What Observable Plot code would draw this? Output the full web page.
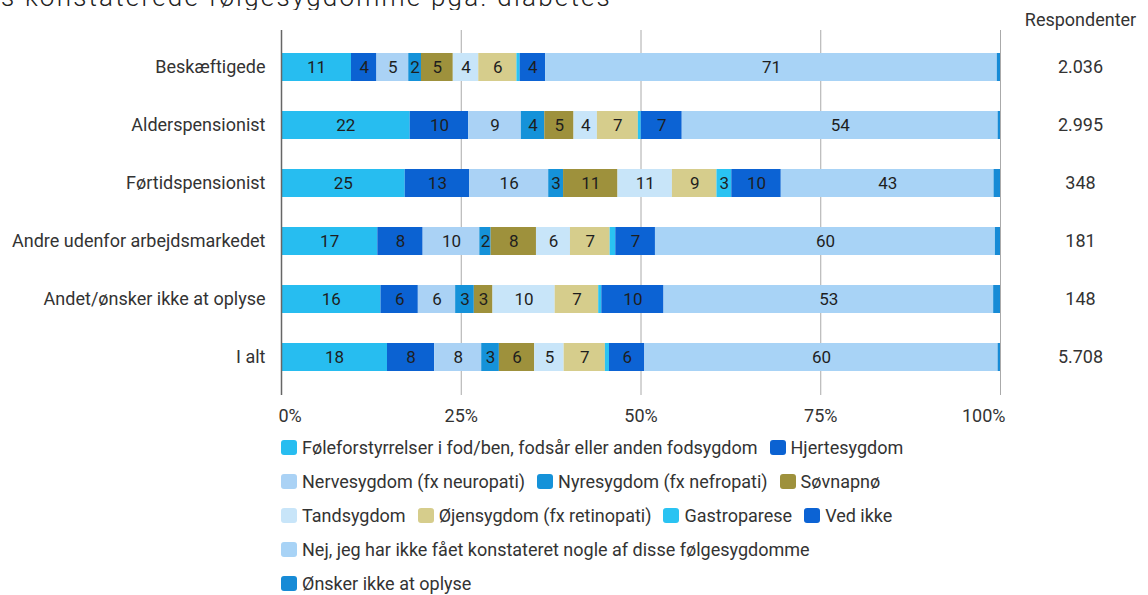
<!DOCTYPE html>
<html>
<head>
<meta charset="utf-8">
<script src="https://cdn.jsdelivr.net/npm/d3@7"></script>
<script src="https://cdn.jsdelivr.net/npm/@observablehq/plot@0.6"></script>
<style>
  html, body { margin: 0; padding: 0; background: #fff; }
  body { width: 1148px; height: 595px; overflow: hidden; position: relative; font-family: Roboto, "Noto Sans", sans-serif; color: #333; }
  #title { position: absolute; top: -16px; left: 0; width: 612px; text-align: right; white-space: nowrap; overflow: hidden;
           font-size: 26px; font-weight: 300; letter-spacing: 2.2px; line-height: 26px; color: #222; }
  #chart svg { display: block; }
  #legend { margin-left: 281px; width: 720px; display: flex; flex-wrap: wrap; font-size: 18px; color: #333; }
  .item { display: flex; align-items: center; height: 34px; margin-right: 12px; white-space: nowrap; }
  .sw { width: 16px; height: 15px; border-radius: 3px; margin-right: 5px; flex: none; }
</style>
</head>
<body>
<div id="title">s konstaterede følgesygdomme pga. diabetes</div>
<div id="chart"></div>
<div id="legend"></div>
<script>
const categories = ["Beskæftigede", "Alderspensionist", "Førtidspensionist", "Andre udenfor arbejdsmarkedet", "Andet/ønsker ikke at oplyse", "I alt"];
const respondents = ["2.036", "2.995", "348", "181", "148", "5.708"];
const seriesNames = [
  "Føleforstyrrelser i fod/ben, fodsår eller anden fodsygdom",
  "Hjertesygdom",
  "Nervesygdom (fx neuropati)",
  "Nyresygdom (fx nefropati)",
  "Søvnapnø",
  "Tandsygdom",
  "Øjensygdom (fx retinopati)",
  "Gastroparese",
  "Ved ikke",
  "Nej, jeg har ikke fået konstateret nogle af disse følgesygdomme",
  "Ønsker ikke at oplyse"
];
const seriesColors = ["#27bdf0", "#0b62d2", "#aad2f5", "#1592d9", "#9e913c", "#c8e5f9", "#d6cd8c", "#2ac3f2", "#0c63d4", "#a8d3f6", "#178bd6"];
const foleforstyrrelser = [11, 22, 25, 17, 16, 18];
const hjertesygdom      = [4, 10, 13, 8, 6, 8];
const nervesygdom       = [5, 9, 16, 10, 6, 8];
const nyresygdom        = [2, 4, 3, 2, 3, 3];
const sovnapno          = [5, 5, 11, 8, 3, 6];
const tandsygdom        = [4, 4, 11, 6, 10, 5];
const ojensygdom        = [6, 7, 9, 7, 7, 7];
const gastroparese      = [0.5, 0.5, 3, 1, 0.5, 0.7];
const vedIkke           = [4, 7, 10, 7, 10, 6];
const nej               = [71, 54, 43, 60, 53, 60];
const onskerIkke        = [0.5, 0.4, 1.3, 0.9, 1.1, 0.4];
const xTicks = [0, 0.25, 0.5, 0.75, 1];

const seriesValues = [foleforstyrrelser, hjertesygdom, nervesygdom, nyresygdom, sovnapno, tandsygdom, ojensygdom, gastroparese, vedIkke, nej, onskerIkke];
const data = [];
seriesNames.forEach((s, si) => {
  categories.forEach((c, ci) => data.push({category: c, series: s, value: seriesValues[si][ci]}));
});

const pct = d3.format(".0%");
const fs = 18;
const chart = Plot.plot({
  width: 1148,
  height: 430,
  marginLeft: 281,
  marginRight: 148,
  marginTop: 30,
  marginBottom: 35,
  style: {fontFamily: "Roboto, sans-serif", fontSize: fs + "px", color: "#333", background: "#fff"},
  x: {domain: [0, 1], label: null},
  y: {domain: categories, paddingInner: 0.517, paddingOuter: 0.405, label: null},
  color: {domain: seriesNames, range: seriesColors},
  marks: [
    Plot.gridX(xTicks.slice(1), {stroke: "#aaa", strokeOpacity: 1}),
    Plot.barX(data, Plot.stackX({offset: "normalize", x: "value", y: "category", fill: "series"})),
    Plot.text(data, Plot.stackX({offset: "normalize", x: "value", y: "category", z: "series",
      text: d => d.value >= 2 ? String(d.value) : "", fill: "#1e1e1e", fontSize: 17})),
    Plot.ruleX([0], {stroke: "#666", strokeWidth: 1.5}),
    Plot.axisX([xTicks[0]], {tickSize: 0, tickPadding: 14, tickFormat: pct, label: null, fontSize: fs, textAnchor: "start", dx: -3}),
    Plot.axisX(xTicks.slice(1, -1), {tickSize: 0, tickPadding: 14, tickFormat: pct, label: null, fontSize: fs}),
    Plot.axisX([xTicks[xTicks.length - 1]], {tickSize: 0, tickPadding: 14, tickFormat: pct, label: null, fontSize: fs, textAnchor: "end", dx: 5}),
    Plot.axisY({tickSize: 0, tickPadding: 16, label: null, fontSize: fs}),
    Plot.text(categories, {y: d => d, text: (d, i) => respondents[i], frameAnchor: "right", textAnchor: "middle", dx: 80, fill: "#333", fontSize: fs}),
    Plot.text(["Respondenter"], {frameAnchor: "top-right", textAnchor: "middle", dx: 80, dy: -17, fill: "#333", fontSize: 18})
  ]
});
document.getElementById("chart").appendChild(chart);

const legend = document.getElementById("legend");
seriesNames.forEach((s, i) => {
  const item = document.createElement("div");
  item.className = "item";
  const sw = document.createElement("span");
  sw.className = "sw";
  sw.style.background = seriesColors[i];
  const t = document.createElement("span");
  t.textContent = s;
  item.appendChild(sw);
  item.appendChild(t);
  legend.appendChild(item);
});
</script>
</body>
</html>
